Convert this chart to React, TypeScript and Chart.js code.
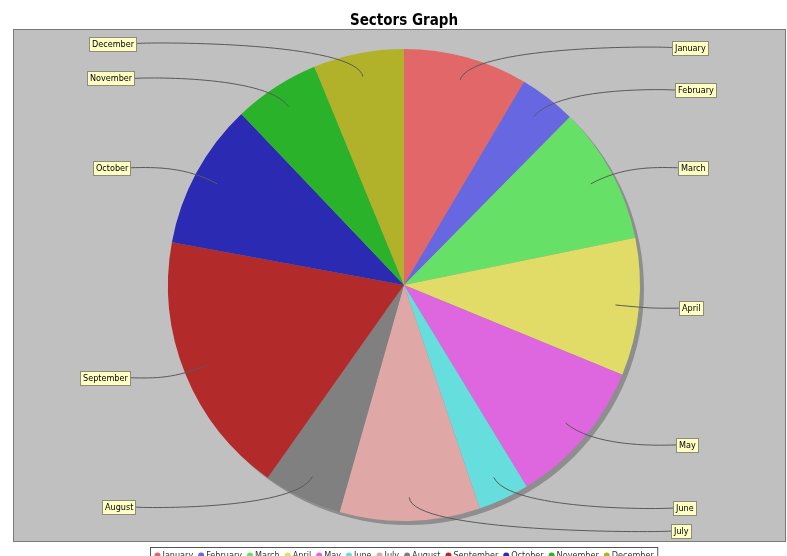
import React, { useEffect, useRef } from 'react';
import { Chart, registerables } from 'chart.js';

Chart.register(...registerables);

const chartTitle = 'Sectors Graph';
const categories = [
  'January', 'February', 'March', 'April', 'May', 'June',
  'July', 'August', 'September', 'October', 'November', 'December',
];
const values = [8.5, 3.9, 9.4, 9.4, 10.1, 3.5, 9.6, 5.4, 18.1, 10.0, 5.9, 6.2];
const sliceColors = [
  '#e26769', '#6767e2', '#67e067', '#e0dc67', '#de66de', '#66dede',
  '#e0a7a7', '#808080', '#b22a2a', '#2a2ab2', '#2ab22a', '#b2b22a',
];

const W = 787;
const H = 556;
const FONT = "'DejaVu Sans Condensed', 'DejaVu Sans', sans-serif";

const decorPlugin = {
  id: 'decor',
  beforeDraw(chart: any) {
    const ctx = chart.ctx as CanvasRenderingContext2D;
    ctx.save();
    ctx.fillStyle = '#ffffff';
    ctx.fillRect(0, 0, W, H);
    ctx.fillStyle = '#c0c0c0';
    ctx.fillRect(13.5, 29.5, 772, 512);
    ctx.strokeStyle = '#7a7a7a';
    ctx.lineWidth = 1;
    ctx.strokeRect(13.5, 29.5, 772, 512);
    ctx.fillStyle = '#000000';
    ctx.font = `bold 15px ${FONT}`;
    ctx.textAlign = 'center';
    ctx.textBaseline = 'alphabetic';
    ctx.fillText(chartTitle, 404, 25);
    ctx.restore();
  },
  beforeDatasetsDraw(chart: any) {
    const meta = chart.getDatasetMeta(0);
    if (!meta.data.length) return;
    const a = meta.data[0];
    const ctx = chart.ctx as CanvasRenderingContext2D;
    ctx.save();
    ctx.fillStyle = '#8e8e8e';
    ctx.beginPath();
    ctx.arc(a.x + 4, a.y + 4, a.outerRadius, 0, Math.PI * 2);
    ctx.fill();
    ctx.restore();
  },
  afterDraw(chart: any) {
    const ctx = chart.ctx as CanvasRenderingContext2D;
    const meta = chart.getDatasetMeta(0);
    ctx.save();
    ctx.font = `9px ${FONT}`;
    meta.data.forEach((arc: any, i: number) => {
      const cx = arc.x;
      const cy = arc.y;
      const R = arc.outerRadius;
      const mid = (arc.startAngle + arc.endAngle) / 2;
      const dx = Math.cos(mid);
      const dy = Math.sin(mid);
      const right = dx >= 0;
      const linkX = cx + dx * R * 0.9;
      const linkY = cy + dy * R * 0.9;
      const elbowR = R * 1.05;
      const elbowX = cx + dx * elbowR;
      const elbowY = cy + dy * elbowR;
      const anchorX = right ? cx + elbowR : cx - elbowR;
      const targetY = cy + dy * R * 1.043;
      const vy = (targetY - cy) / (R * 1.11);
      const off = R * 1.114 + 12 * Math.sqrt(Math.max(0, 1 - vy * vy));
      const targetX = right ? cx + off : cx - off;

      ctx.strokeStyle = '#5a5a5a';
      ctx.lineWidth = 1;
      ctx.beginPath();
      ctx.moveTo(targetX, targetY);
      ctx.bezierCurveTo(anchorX, elbowY, elbowX, elbowY, linkX, linkY);
      ctx.stroke();

      const text = categories[i];
      const tw = ctx.measureText(text).width;
      const bw = Math.round(tw + 5);
      const bh = 14;
      const bx = Math.round(right ? targetX : targetX - bw) + 0.5;
      const by = Math.round(targetY - bh / 2) + 0.5;
      ctx.fillStyle = '#ffffc4';
      ctx.fillRect(bx, by, bw, bh);
      ctx.strokeStyle = '#8c8c7a';
      ctx.strokeRect(bx, by, bw, bh);
      ctx.fillStyle = '#000000';
      ctx.textAlign = 'left';
      ctx.textBaseline = 'middle';
      ctx.fillText(text, bx + 2.5, by + bh / 2 + 0.5);
    });

    // legend
    ctx.font = `9px ${FONT}`;
    const dot = 6;
    const gapDot = 2;
    const gapItem = 5;
    const widths = categories.map((c) => ctx.measureText(c).width);
    let total = 0;
    widths.forEach((w, i) => {
      total += dot + gapDot + w + (i < widths.length - 1 ? gapItem : 0);
    });
    const pad = 4;
    const boxW = total + pad * 2;
    const boxX = Math.round(404 - boxW / 2) + 0.5;
    const boxY = 547.5;
    ctx.fillStyle = '#ffffff';
    ctx.fillRect(boxX, boxY, boxW, 16);
    ctx.strokeStyle = '#555555';
    ctx.strokeRect(boxX, boxY, boxW, 16);
    let x = boxX + pad;
    const rowY = 555.5;
    categories.forEach((c, i) => {
      ctx.fillStyle = sliceColors[i];
      ctx.beginPath();
      ctx.arc(x + dot / 2, rowY, dot / 2, 0, Math.PI * 2);
      ctx.fill();
      x += dot + gapDot;
      ctx.fillStyle = '#333333';
      ctx.textAlign = 'left';
      ctx.textBaseline = 'middle';
      ctx.fillText(c, x, rowY);
      x += widths[i] + gapItem;
    });
    ctx.restore();
  },
};

export default function App() {
  const ref = useRef<HTMLCanvasElement | null>(null);
  useEffect(() => {
    document.body.style.margin = '0';
    document.body.style.overflow = 'hidden';
    const canvas = ref.current;
    if (!canvas) return;
    const chart = new Chart(canvas, {
      type: 'pie',
      data: {
        labels: categories,
        datasets: [
          {
            data: values,
            backgroundColor: sliceColors,
            borderWidth: 0,
          },
        ],
      },
      options: {
        animation: false,
        responsive: false,
        devicePixelRatio: 1,
        layout: { padding: { top: 49, bottom: 35, left: 150, right: 129 } },
        plugins: {
          legend: { display: false },
          title: { display: false },
          tooltip: { enabled: false },
        },
        events: [],
      },
      plugins: [decorPlugin],
    });
    return () => chart.destroy();
  }, []);
  return (
    <canvas
      ref={ref}
      width={W}
      height={H}
      style={{ display: 'block', width: W + 'px', height: H + 'px' }}
    />
  );
}
